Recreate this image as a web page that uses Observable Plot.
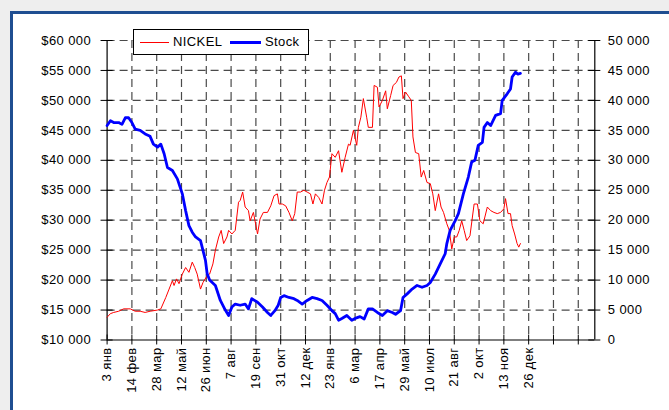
<!DOCTYPE html>
<html><head><meta charset="utf-8">
<script src="https://cdn.jsdelivr.net/npm/d3@7"></script>
<script src="https://cdn.jsdelivr.net/npm/@observablehq/plot@0.6"></script>
<style>
html,body{margin:0;padding:0;background:#eeeeee;}
#wrap{position:relative;width:669px;height:410px;overflow:hidden;background:#eeeeee;font-family:"Liberation Sans",Arial,sans-serif;}
#frame{position:absolute;left:10px;top:11px;width:720px;height:460px;border:3px solid #1f4e91;background:#ffffff;}
#chart{position:absolute;left:0;top:0;}
#legend{position:absolute;left:133px;top:29px;width:174px;height:24px;border:1px solid #000;background:#fff;font-size:13px;letter-spacing:0.4px;color:#000;}
#legend .sw{position:absolute;top:12px;}
#legend .lb{position:absolute;top:4px;line-height:16px;}
</style></head>
<body>
<div id="wrap">
  <div id="frame"></div>
  <div id="chart"></div>
  <div id="legend">
    <div class="sw" style="left:6px;width:29px;border-top:1px solid #ff0000;"></div>
    <div class="lb" style="left:39px;">NICKEL</div>
    <div class="sw" style="left:96px;top:11px;width:31px;border-top:3px solid #0000ff;"></div>
    <div class="lb" style="left:131px;">Stock</div>
  </div>
</div>
<script>
// trading-day index (30 trading days between labelled ticks)
const xLabels = ["3 янв","14 фев","28 мар","12 май","26 июн","7 авг","19 сен","31 окт","12 дек","23 янв","6 мар","17 апр","29 май","10 июл","21 авг","2 окт","13 ноя","26 дек"];

// NICKEL price, thousand $ per tonne
const nickelDays = [0,4,8,14,20,28,34,40,46,52,61,65,71,75,79,81,84,87,91,95,99,103,106,109,113,116,120,124,128,131,135,138,141,145,147,151,155,159,161,164,167,171,173,177,182,185,189,194,198,202,206,208,212,216,220,224,227,230,234,238,242,246,249,252,256,260,263,266,269,272,276,280,284,288,292,294,298,302,304,307,310,314,316,321,323,327,329,333,337,339,343,346,350,353,356,358,361,365,368,370,373,377,380,383,387,391,394,397,401,404,407,411,414,417,420,423,426,429,432,435,439,444,448,451,455,460,464,468,472,476,480,482,485,488,490,493,496,498,500];
const nickelPrices = [13.8,14.4,14.6,14.8,15.2,15.2,14.8,14.8,14.6,14.8,15.0,15.2,17.1,18.5,19.9,19.1,20.2,19.4,21.0,22.1,21.3,23.0,22.1,21.0,18.5,19.6,20.5,21.0,22.7,25.0,27.2,28.3,26.1,27.2,28.3,27.7,28.3,33.0,33.3,34.7,32.2,31.6,29.9,31.3,27.7,30.2,31.3,31.3,32.4,34.1,34.4,32.7,32.7,32.4,31.3,29.9,31.1,34.7,34.7,35.0,34.7,34.4,32.7,34.4,33.8,32.7,35.0,36.3,37.2,41.1,40.5,41.6,38.0,40.5,42.7,42.5,45.0,42.5,45.5,47.2,50.3,47.2,45.5,45.5,52.5,52.2,48.9,50.0,51.6,48.6,50.8,52.5,53.0,53.9,54.1,50.3,51.4,50.6,50.0,43.9,41.3,41.1,37.2,38.3,36.3,36.1,34.4,31.6,34.4,32.2,31.3,29.4,28.3,25.2,27.2,27.2,28.3,29.9,28.3,26.6,27.4,32.7,32.7,29.9,29.4,32.2,31.6,31.3,31.1,31.3,31.9,33.6,31.1,31.1,29.1,27.7,26.1,25.5,26.1];

// Stock, thousand tonnes
const stockDays = [0,4,8,14,18,22,26,30,34,40,46,52,56,61,65,69,73,79,85,91,95,99,103,107,113,119,121,124,131,137,143,147,151,155,161,167,171,175,182,188,194,198,203,207,210,214,220,226,230,236,242,248,254,260,266,272,276,280,284,290,296,300,306,311,316,321,327,333,339,345,349,355,358,363,369,375,381,387,391,397,403,409,411,415,421,425,431,437,441,445,449,454,456,460,464,470,476,478,484,488,490,494,497,500];
const stockLevels = [35.8,36.6,36.3,36.3,36.0,37.1,37.1,36.3,35.2,35.0,34.4,34.0,32.7,32.2,32.7,31.1,28.8,28.3,26.9,24.4,21.6,19.1,18.0,17.2,16.6,13.3,11.1,10.0,9.1,6.6,5.0,4.1,5.5,6.0,5.8,6.0,5.2,6.9,6.3,5.5,4.6,4.1,4.9,5.8,7.1,7.4,7.1,6.9,6.6,6.0,6.6,7.1,6.9,6.6,5.8,4.9,4.4,3.3,3.6,4.1,3.3,3.6,3.9,3.5,5.2,5.2,4.6,4.1,4.9,4.6,4.3,4.9,7.1,7.7,8.5,9.1,8.8,9.1,9.6,11.0,12.7,14.4,16.1,18.3,19.9,21.1,24.4,27.2,29.7,30.0,32.5,33.0,35.5,36.3,35.8,37.5,37.8,40.0,41.1,41.9,43.9,44.7,44.4,44.5];

const leftTicks = [10000,15000,20000,25000,30000,35000,40000,45000,50000,55000,60000];
const rightTicks = [0,5000,10000,15000,20000,25000,30000,35000,40000,45000,50000];
const xTicks = d3.range(0, 571, 30);

const fmt = d => d3.format(",")(d).replace(/,/g, " ");
const offset = 10000; // right axis (stock) is drawn on the same 50 000-wide range
const nickel = nickelDays.map((d, i) => ({day: d, v: nickelPrices[i] * 1000}));
const stock = stockDays.map((d, i) => ({day: d, v: stockLevels[i] * 1000 + offset}));

const grid = {stroke: "#4a4a4a", strokeDasharray: "8,5", strokeWidth: 1.2};
const chart = Plot.plot({
  width: 669, height: 410,
  marginLeft: 106.6, marginRight: 74.7, marginTop: 40, marginBottom: 70.5,
  x: {domain: [0, 590], axis: null},
  y: {domain: [10000, 60000], axis: null},
  style: {background: "transparent", fontFamily: "'Liberation Sans', Arial, sans-serif", fontSize: "13px", color: "#000", overflow: "visible"},
  marks: [
    Plot.ruleY(leftTicks.slice(1), grid),
    Plot.ruleX(xTicks.slice(1), grid),
    Plot.ruleX([0, 590], {stroke: "#000", strokeWidth: 1.2}),
    Plot.ruleY([10000], {stroke: "#000", strokeWidth: 1.2}),
    Plot.ruleY(leftTicks, {x1: -7.3, x2: 7.3, stroke: "#000"}),
    Plot.ruleY(leftTicks, {x1: 582.7, x2: 597.3, stroke: "#000"}),
    Plot.ruleX(xTicks, {y1: 9170, y2: 10830, stroke: "#000"}),
    Plot.line(nickel, {x: "day", y: "v", stroke: "#ff0000", strokeWidth: 1}),
    Plot.line(stock, {x: "day", y: "v", stroke: "#0000ff", strokeWidth: 2.8}),
    Plot.text(leftTicks, {x: 0, y: d => d, text: d => "$" + fmt(d), textAnchor: "end", dx: -16, fill: "#000", style: "letter-spacing:0.4px"}),
    Plot.text(rightTicks, {x: 590, y: d => d + offset, text: d => fmt(d), textAnchor: "start", dx: 13, fill: "#000"}),
    Plot.text(xLabels, {x: (d, i) => i * 30, y: 8750, text: d => d, rotate: -90, textAnchor: "end", fill: "#000"})
  ]
});
chart.querySelectorAll("text").forEach(t => t.style.letterSpacing = "0.4px");
document.getElementById("chart").appendChild(chart);
</script>
</body></html>
